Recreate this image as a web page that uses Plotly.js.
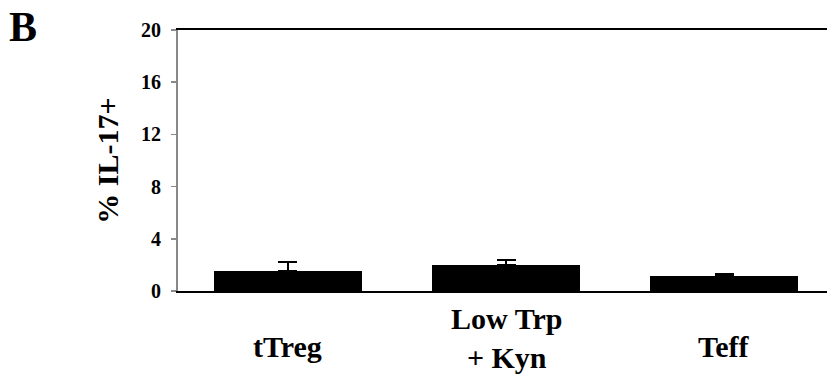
<!DOCTYPE html>
<html>
<head>
<meta charset="utf-8">
<script src="https://cdn.plot.ly/plotly-3.0.1.min.js"></script>
<style>html,body{margin:0;padding:0;background:#fff;}#chart{width:827px;height:376px;}</style>
</head>
<body>
<div id="chart"></div>
<script>
var categories = ["tTreg", "Low Trp<br>+ Kyn", "Teff"];
var values = [1.53, 2.02, 1.15];
var errors = [0.67, 0.33, 0.13];
var yTickVals = [0, 4, 8, 12, 16, 20];
var yTickText = ["0", "4", "8", "12", "16", "20"];

var FONT = "Liberation Serif";
var xIdx = categories.map(function(c, i){ return i; });

var trace = {
  type: "bar",
  x: xIdx,
  y: values,
  width: 0.678,
  marker: {color: "#000000", line: {width: 0}},
  error_y: {
    type: "data", symmetric: false, array: errors,
    arrayminus: values.map(function(){ return 0; }),
    color: "#000000", thickness: 2, width: 9.5
  },
  hoverinfo: "none"
};

var annotations = categories.map(function(c, i){
  var multi = c.indexOf("<br>") >= 0;
  return {
    x: i, xref: "x", y: 0, yref: "paper", yanchor: "middle", xanchor: "center",
    yshift: multi ? -47 : -55, text: c, showarrow: false,
    font: {family: FONT, size: 30, color: "#000", weight: 700}
  };
});
annotations.push({
  x: 0, xref: "paper", xanchor: "left", xshift: -171,
  y: 1, yref: "paper", yanchor: "top", yshift: 28,
  text: "B", showarrow: false,
  font: {family: FONT, size: 42, color: "#000", weight: 700}
});

var layout = {
  width: 827, height: 376,
  font: {family: FONT},
  margin: {l: 178, r: 0, t: 29.5, b: 85, pad: 0},
  paper_bgcolor: "#fff", plot_bgcolor: "#fff",
  showlegend: false,
  bargap: 0,
  xaxis: {
    type: "linear", range: [-0.503, 2.47],
    showgrid: false, zeroline: false, showticklabels: false, ticks: "",
    showline: true, mirror: true, linecolor: "#000", linewidth: 2,
    fixedrange: true
  },
  yaxis: {
    range: [0, 20], tickvals: yTickVals, ticktext: yTickText,
    showgrid: false, zeroline: false,
    showline: true, linecolor: "#888", linewidth: 2,
    ticks: "outside", ticklen: 5, tickwidth: 1.5, tickcolor: "#888",
    ticklabelstandoff: 6,
    tickfont: {family: FONT, size: 20, color: "#000", weight: 700},
    title: {text: "% IL-17+", standoff: 14,
      font: {family: FONT, size: 30, color: "#000", weight: 700}},
    fixedrange: true
  },
  annotations: annotations
};

Plotly.newPlot("chart", [trace], layout, {displayModeBar: false, staticPlot: true});
</script>
</body>
</html>
